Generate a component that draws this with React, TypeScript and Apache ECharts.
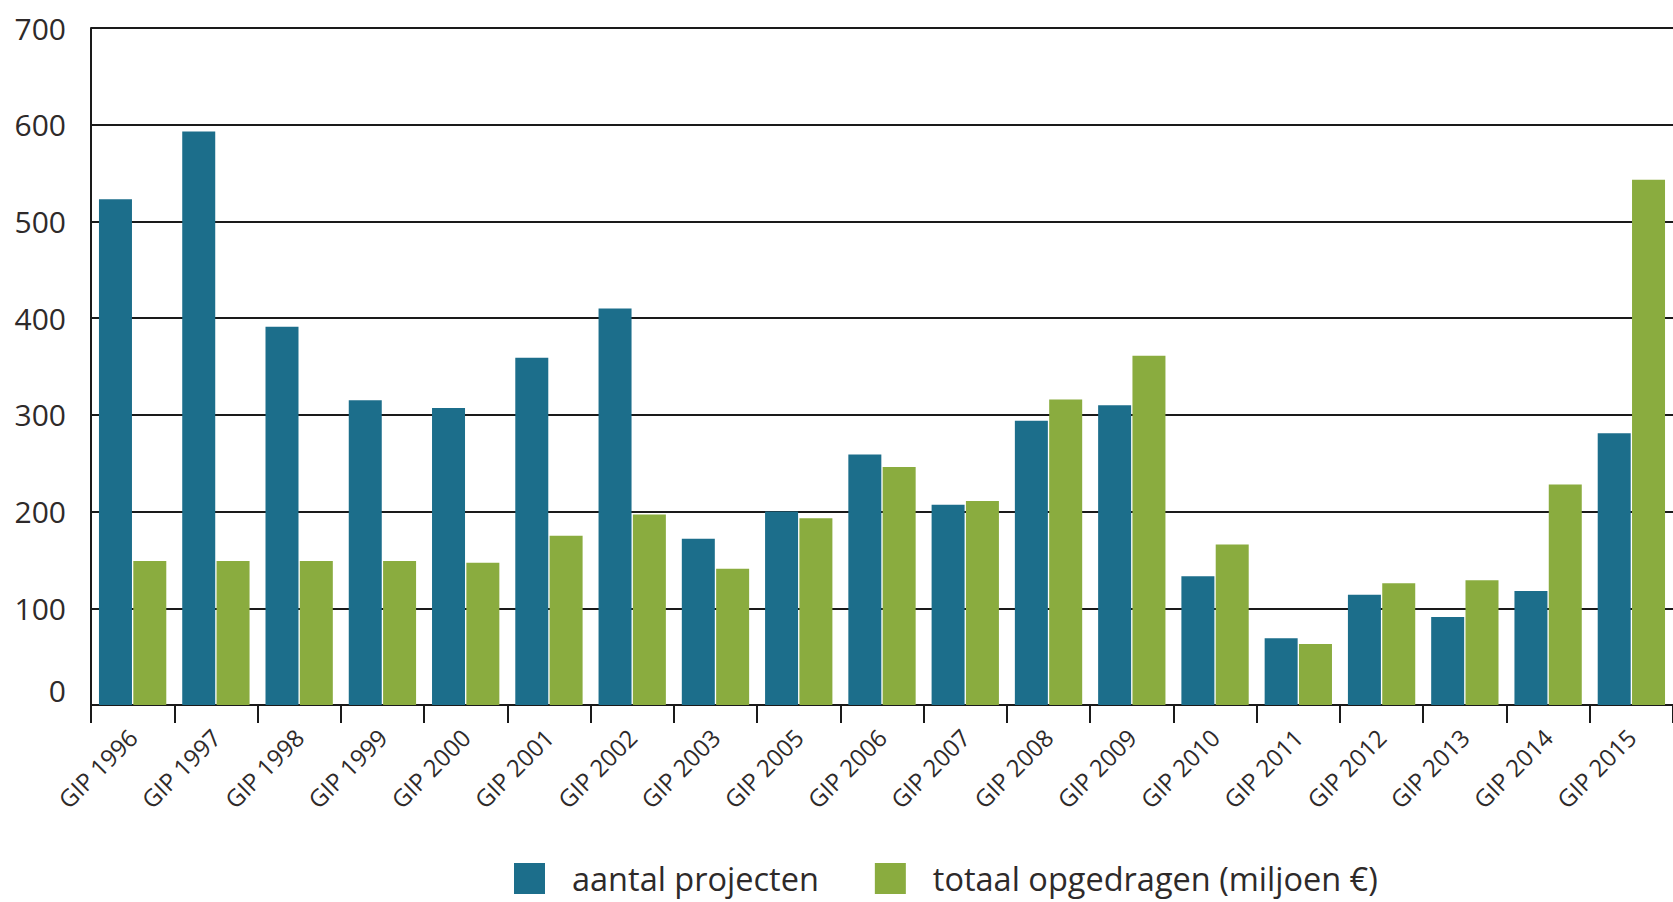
import React, { useEffect, useRef } from "react";
import * as echarts from "echarts";

const categories = [
  "GIP 1996", "GIP 1997", "GIP 1998", "GIP 1999", "GIP 2000", "GIP 2001", "GIP 2002",
  "GIP 2003", "GIP 2005", "GIP 2006", "GIP 2007", "GIP 2008", "GIP 2009", "GIP 2010",
  "GIP 2011", "GIP 2012", "GIP 2013", "GIP 2014", "GIP 2015",
];
const aantalProjecten = [523, 593, 391, 315, 307, 359, 410, 172, 200, 259, 207, 294, 310, 133, 69, 114, 91, 118, 281];
const totaalOpgedragen = [149, 149, 149, 149, 147, 175, 197, 141, 193, 246, 211, 316, 361, 166, 63, 126, 129, 228, 543];
const seriesNames = ["aantal projecten", "totaal opgedragen (miljoen €)"];

const FONT = "'Open Sans', 'DejaVu Sans', sans-serif";
const TEXT = "#2e2a2a";
const LINE = "#1a1a1a";
const BLUE = "#1c6e8b";
const GREEN = "#8aac3f";

export default function App() {
  const ref = useRef<HTMLDivElement>(null);
  useEffect(() => {
    if (!ref.current) return;
    const chart = echarts.init(ref.current, undefined, { renderer: "svg" });
    chart.setOption({
      animation: false,
      backgroundColor: "#ffffff",
      grid: { left: 91, top: 28, width: 1588, height: 677, containLabel: false },
      legend: {
        left: 509,
        top: 857,
        itemWidth: 31,
        itemHeight: 31,
        itemGap: 56,
        icon: "rect",
        textStyle: { fontFamily: FONT, fontSize: 32.5, color: TEXT, padding: [0, 0, 0, 22] },
        data: seriesNames,
      },
      xAxis: {
        type: "category",
        data: categories,
        boundaryGap: true,
        axisLine: { show: true, lineStyle: { color: LINE, width: 2 } },
        axisTick: { show: true, length: 18, lineStyle: { color: LINE, width: 2 } },
        axisLabel: {
          interval: 0,
          rotate: 45,
          margin: 28,
          fontFamily: FONT,
          fontSize: 24,
          color: TEXT,
        },
      },
      yAxis: {
        type: "value",
        min: 0,
        max: 700,
        interval: 100,
        axisLine: { show: true, lineStyle: { color: LINE, width: 2 } },
        axisTick: { show: false },
        splitLine: { show: true, lineStyle: { color: LINE, width: 2 } },
        axisLabel: {
          margin: 25,
          fontFamily: FONT,
          fontSize: 30,
          color: TEXT,
          formatter: (v: number) => (v === 0 ? "{z|0}" : String(v)),
          rich: {
            z: { fontFamily: FONT, fontSize: 30, color: TEXT, padding: [0, 0, 30, 0] },
          },
        },
      },
      series: [
        {
          name: seriesNames[0],
          type: "bar",
          data: aantalProjecten,
          barWidth: 33,
          barGap: "4%",
          itemStyle: { color: BLUE },
        },
        {
          name: seriesNames[1],
          type: "bar",
          data: totaalOpgedragen,
          barWidth: 33,
          barGap: "4%",
          itemStyle: { color: GREEN },
        },
      ],
    });
    return () => chart.dispose();
  }, []);
  return (
    <div
      ref={ref}
      style={{ position: "absolute", left: 0, top: 0, width: 1673, height: 902 }}
    />
  );
}
